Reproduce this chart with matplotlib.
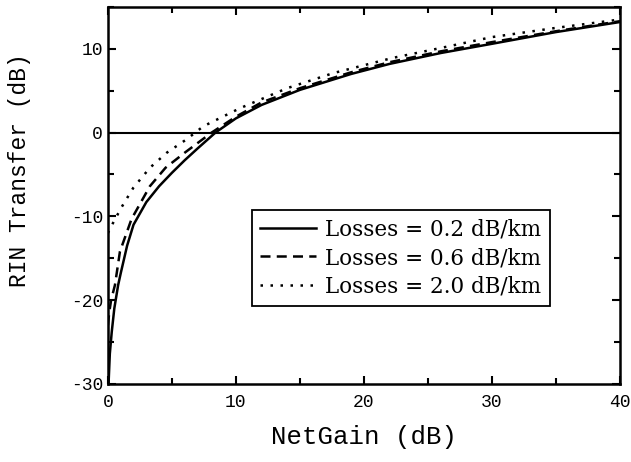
#!/usr/bin/env python3

import matplotlib
matplotlib.use('Agg')
import matplotlib.pyplot as plt
from matplotlib.ticker import MultipleLocator

# values
gain_02 = [0.05, 0.15, 0.3, 0.5, 0.8, 1.0, 1.5, 2.0, 3.0, 4.0, 5.0, 6.0, 7.0, 8.4, 10, 12, 15, 19, 22, 26, 30, 35, 40]
rin_02 = [-30, -26.4, -23.8, -21.0, -18.2, -16.8, -13.5, -11.0, -8.3, -6.4, -4.8, -3.3, -1.9, 0.0, 1.7, 3.3, 5.1, 7.0, 8.2, 9.5, 10.6, 12.0, 13.2]

gain_06 = [0.0, 0.1, 0.25, 0.55, 0.94, 1.85, 3.28, 4.5, 6.0, 8.1, 10, 12, 15, 19, 22, 26, 30, 35, 40]
rin_06 = [-23, -21.5, -20, -18.2, -14.2, -10.3, -6.4, -4.2, -2.4, 0.0, 1.9, 3.6, 5.3, 7.2, 8.4, 9.7, 10.8, 12.1, 13.3]

gain_20 = [0.0, 0.29, 1.07, 1.98, 3.28, 4.6, 6.15, 7.45, 10.3, 14, 17.6, 22.2, 26, 30, 35, 40]
rin_20 = [-12, -11.1, -8.9, -6.6, -4.2, -2.4, -0.8, 0.75, 2.9, 5.3, 7.1, 8.9, 10.1, 11.4, 12.5, 13.5]

labels = ['Losses = 0.2 dB/km', 'Losses = 0.6 dB/km', 'Losses = 2.0 dB/km']

plt.rcParams['axes.unicode_minus'] = False

fig = plt.figure(figsize=(6.31, 4.62), dpi=100)
ax = fig.add_axes([0.171, 0.169, 0.8116, 0.816])

ax.plot(gain_02, rin_02, color='black', lw=1.8, ls='-', label=labels[0])
ax.plot(gain_06, rin_06, color='black', lw=1.8, ls=(0, (4, 2.5)), label=labels[1])
ax.plot(gain_20, rin_20, color='black', lw=1.8, ls=(0, (1, 3)), label=labels[2])
ax.axhline(0, color='black', lw=1.5)

ax.set_xlim(0, 40)
ax.set_ylim(-30, 15)
ax.xaxis.set_major_locator(MultipleLocator(10))
ax.xaxis.set_minor_locator(MultipleLocator(5))
ax.yaxis.set_major_locator(MultipleLocator(10))
ax.yaxis.set_minor_locator(MultipleLocator(5))
ax.tick_params(which='both', direction='in', top=True, right=True, width=1.5)
ax.tick_params(which='major', length=6, labelsize=13)
ax.tick_params(which='minor', length=4)
ax.tick_params(axis='x', pad=7)
for lab in ax.get_xticklabels() + ax.get_yticklabels():
  lab.set_family('Liberation Mono')
for s in ax.spines.values():
  s.set_linewidth(1.8)

ax.set_xlabel('NetGain (dB)', family='Liberation Mono', fontsize=18.5, labelpad=10)
ax.set_ylabel('RIN Transfer (dB)', family='Liberation Mono', fontsize=16.5)
ax.yaxis.set_label_coords(-0.15, 0.567)

leg = ax.legend(loc='upper left', bbox_to_anchor=(0.281, 0.4615), fancybox=False,
                edgecolor='black', framealpha=1, handlelength=2.6,
                prop={'family': 'DejaVu Serif', 'size': 15.5}, borderpad=0.4,
                labelspacing=0.3, handletextpad=0.4, borderaxespad=0)
leg.get_frame().set_linewidth(1.3)

plt.savefig('out.png', dpi=100)
